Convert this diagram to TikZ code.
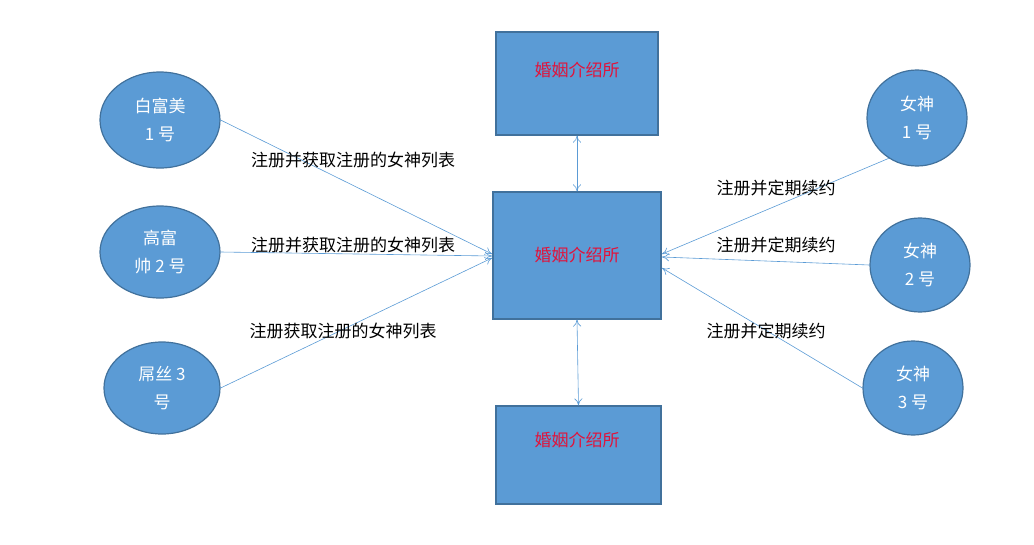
\documentclass[tikz,border=0pt]{standalone}
\usepackage{fontspec}
\setmainfont{Liberation Serif}
\newfontfamily\cjk{Noto Sans CJK SC}
\usetikzlibrary{shapes.geometric,arrows.meta}
\definecolor{fillb}{HTML}{5B9BD5}
\definecolor{edgeb}{HTML}{41719C}
\definecolor{lineb}{HTML}{5B9BD5}
\definecolor{redt}{HTML}{E0143C}
\tikzset{
 person/.style={ellipse,draw=edgeb,fill=fillb,line width=1.2pt,text=white,font=\cjk\fontsize{17}{28}\selectfont,align=center,inner sep=0pt},
 agency/.style={rectangle,draw=edgeb,fill=fillb,line width=1.2pt},
 atext/.style={text=redt,font=\cjk\fontsize{17}{20}\selectfont},
 conn/.style={draw=lineb,line width=0.6pt,-{To[length=7pt,width=8pt]}},
 dconn/.style={draw=lineb,line width=0.6pt,{To[length=7pt,width=8pt]}-{To[length=7pt,width=8pt]}},
 lbl/.style={font=\cjk\fontsize{17}{20}\selectfont,text=black}
}
\begin{document}
\begin{tikzpicture}[x=1pt,y=-1pt]
\useasboundingbox (0,0) rectangle (1034,544);
\node[agency,minimum width=162pt,minimum height=103pt] (top) at (577,83.5) {};
\node[atext] (tt) at (577,70) {婚姻介绍所};
\node[agency,minimum width=168pt,minimum height=127pt] (mid) at (577,255.5) {};
\node[atext] (mt) at (577,255) {婚姻介绍所};
\node[agency,minimum width=165pt,minimum height=98pt] (bot) at (578.5,455) {};
\node[atext] (bt) at (577,440) {婚姻介绍所};
\node[person,minimum width=120pt,minimum height=96pt] (p1) at (160,120) {白富美\\1 号};
\node[person,minimum width=120pt,minimum height=92pt] (p2) at (160,252) {高富\\帅 2 号};
\node[person,minimum width=116pt,minimum height=92pt] (p3) at (162,388) {屌丝 3\\号};
\node[person,minimum width=100pt,minimum height=96pt] (g1) at (917,118) {女神\\1 号};
\node[person,minimum width=100pt,minimum height=94pt] (g2) at (920,265) {女神\\2 号};
\node[person,minimum width=100pt,minimum height=94pt] (g3) at (913,388) {女神\\3 号};
\coordinate (ml1) at (492,254);
\coordinate (ml2) at (492,256);
\coordinate (ml3) at (492,258);
\coordinate (mr1) at (662,254);
\coordinate (mr2) at (662,257);
\coordinate (mr3) at (662,268);
\draw[conn] (p1.east) -- (ml1);
\draw[conn] (p2.east) -- (ml2);
\draw[conn] (p3.east) -- (ml3);
\draw[conn] (g1.-125) -- (mr1);
\draw[conn] (g2.west) -- (mr2);
\draw[conn] (g3.west) -- (mr3);
\draw[dconn] (top.south) -- (mid.north);
\draw[dconn] (mid.south) -- (bot.north);
\node[lbl] (l1) at (353,160) {注册并获取注册的女神列表};
\node[lbl] (l2) at (353,245) {注册并获取注册的女神列表};
\node[lbl] (l3) at (343,331) {注册获取注册的女神列表};
\node[lbl] (r1) at (776,188) {注册并定期续约};
\node[lbl] (r2) at (776,245) {注册并定期续约};
\node[lbl] (r3) at (766,331) {注册并定期续约};
\end{tikzpicture}
\end{document}
